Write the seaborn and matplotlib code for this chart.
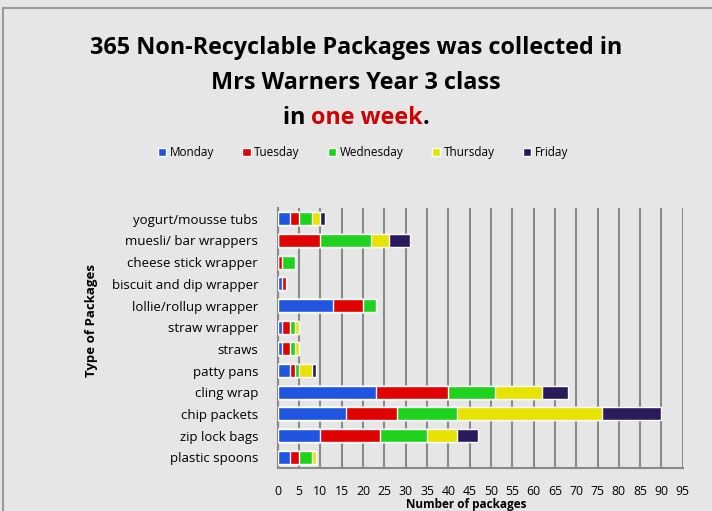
import numpy as np
import pandas as pd
import seaborn as sns
import matplotlib.pyplot as plt
from matplotlib.patches import Patch, Rectangle

# datos
items = ["yogurt/mousse tubs", "muesli/ bar wrappers", "cheese stick wrapper",
         "biscuit and dip wrapper", "lollie/rollup wrapper", "straw wrapper",
         "straws", "patty pans", "cling wrap", "chip packets", "zip lock bags",
         "plastic spoons"]
days = ["Monday", "Tuesday", "Wednesday", "Thursday", "Friday"]
monday = [3, 0, 0, 1, 13, 1, 1, 3, 23, 16, 10, 3]
tuesday = [2, 10, 1, 1, 7, 2, 2, 1, 17, 12, 14, 2]
wednesday = [3, 12, 3, 0, 3, 1, 1, 1, 11, 14, 11, 3]
thursday = [2, 4, 0, 0, 0, 1, 1, 3, 11, 34, 7, 1]
friday = [1, 5, 0, 0, 0, 0, 0, 1, 6, 14, 5, 0]
colors = ["#1f55e0", "#e00000", "#1ed21e", "#e8e200", "#2b1b5c"]
xticks = list(range(0, 100, 5))

df = pd.DataFrame({"item": items, "Monday": monday, "Tuesday": tuesday,
                   "Wednesday": wednesday, "Thursday": thursday, "Friday": friday})

sns.set_style("white")
plt.rcParams["font.family"] = ["Open Sans", "DejaVu Sans"]
plt.rcParams["text.color"] = "black"
plt.rcParams["xtick.labelcolor"] = "black"
plt.rcParams["ytick.labelcolor"] = "black"
plt.rcParams["axes.labelcolor"] = "black"

fig = plt.figure(figsize=(7.12, 5.11), dpi=100)
fig.patch.set_facecolor("#e6e6e6")
ax = fig.add_axes([0.390, 0.084, 0.569, 0.509])
ax.set_facecolor("#e6e6e6")

# apilar: dibujar acumulados de mayor a menor
cum = df[days].cumsum(axis=1)
for day, col in reversed(list(zip(days, colors))):
    sns.barplot(x=cum[day], y=df["item"], color=col, orient="h", width=0.6,
                saturation=1, ax=ax, zorder=3)

ax.set_xlim(0, 95)
ax.set_xticks(xticks)
ax.xaxis.grid(True, color="#8a8a8a", linewidth=1.5, zorder=0)
ax.set_axisbelow(True)
for s in ["top", "right"]:
    ax.spines[s].set_visible(False)
for s in ["left", "bottom"]:
    ax.spines[s].set_color("#8a8a8a")
    ax.spines[s].set_linewidth(1.5)
ax.tick_params(axis="x", direction="out", length=5, width=1.2, color="#8a8a8a",
               pad=7, labelsize=8.8)
ax.tick_params(axis="y", length=0, pad=14, labelsize=9.5)
ax.set_yticks(np.arange(len(items)) - 0.5, minor=True)
ax.tick_params(axis="y", which="minor", direction="out", length=4, color="#8a8a8a")
ax.set_xlabel("")
ax.set_ylabel("")
fig.text(0.655, 0.0, "Number of packages", ha="center", va="bottom",
         fontsize=8.5, fontweight="bold")
fig.text(0.128, 0.372, "Type of Packages", rotation=90, ha="center", va="center",
         fontsize=9.5, fontweight="bold")

# titulo
kw = dict(fontsize=16.8, fontweight="bold", ha="center", va="center")
fig.text(0.5, 0.906, "365 Non-Recyclable Packages was collected in", **kw)
fig.text(0.5, 0.838, "Mrs Warners Year 3 class", **kw)
parts = [("in ", "black"), ("one week", "#cc0000"), (".", "black")]
fig.canvas.draw()
r = fig.canvas.get_renderer()
txts = [fig.text(0, 0.769, p, color=c, fontsize=16.8, fontweight="bold",
                 ha="left", va="center") for p, c in parts]
widths = [t.get_window_extent(r).width / fig.bbox.width for t in txts]
x0 = 0.5 - sum(widths) / 2
for t, w in zip(txts, widths):
    t.set_x(x0)
    x0 += w

handles = [Patch(facecolor=c, label=d) for d, c in zip(days, colors)]
fig.legend(handles=handles, loc="center", bbox_to_anchor=(0.51, 0.702), ncol=5,
           frameon=False, fontsize=8.5, handlelength=0.7, handleheight=0.7,
           handletextpad=0.3, columnspacing=2.4)

fig.add_artist(Rectangle((0.004, -0.01), 1.0, 0.994, transform=fig.transFigure,
                         fill=False, edgecolor="#9a9a9a", linewidth=1.5))

fig.savefig("out.png", dpi=100, facecolor=fig.get_facecolor())
